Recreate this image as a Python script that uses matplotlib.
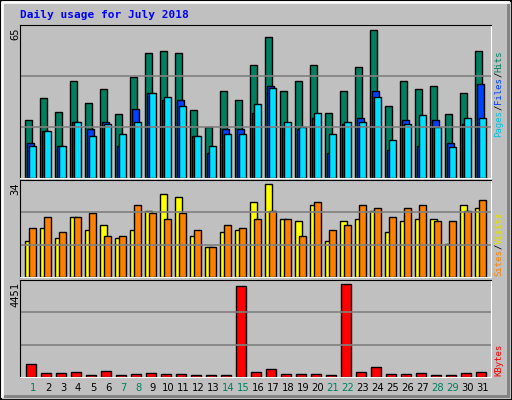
import numpy as np
import matplotlib
matplotlib.use('Agg')
import matplotlib.pyplot as plt
from matplotlib.patches import Rectangle

# dati
giorni = np.arange(1, 32)
hits = [24.5, 34, 28, 41, 32, 38, 27, 43, 53, 54, 53, 29, 21.5, 37, 33, 48, 60, 37, 41, 48,
        27.5, 37, 47, 63, 30.5, 41, 38, 39, 27, 36, 54]
files = [14.7, 19.8, 13.8, 23.7, 20.7, 23.7, 13.8, 29.2, 36, 33, 33, 17.7, 10.8, 20.7, 20.7, 27.5,
         39, 21.5, 20.7, 25.4, 10.8, 22.8, 25.4, 37, 12.1, 24.5, 13.8, 24.5, 14.7, 22.8, 40]
pages = [13.8, 19.8, 13.8, 23.7, 17.7, 22.8, 18.5, 23.7, 36, 34.3, 30.5, 17.7, 13.8, 18.5, 18.5,
         31.3, 38.2, 23.7, 21.5, 27.5, 18.5, 23.7, 23.7, 34.3, 16, 22.8, 26.7, 21.5, 13, 25.4, 25.4]
sites = [12.7, 17.3, 13.5, 21.2, 16.3, 18.4, 13.5, 16.3, 23, 29, 28, 14.5, 10.6, 15.6, 16.3, 26.2,
         32.6, 20.2, 19.5, 25.1, 12.7, 19.5, 20.2, 23, 15.6, 19.5, 20.2, 20.2, 11.7, 25.1, 24.1]
visits = [17.3, 21.2, 15.6, 21.2, 22.3, 14.5, 14.5, 25.1, 22.3, 20.2, 22.3, 16.3, 10.6, 18.4, 17.3,
          20.2, 23, 20.2, 14.5, 26.2, 16.3, 18.4, 25.1, 24.1, 21.2, 24.1, 25.1, 19.5, 19.5, 23, 26.9]
kbytes = [576, 202, 202, 249, 109, 296, 109, 156, 202, 156, 156, 109, 109, 109, 4170, 249, 389,
          156, 156, 156, 109, 4263, 249, 436, 156, 156, 202, 109, 109, 202, 249]
weekend = [1, 7, 8, 14, 15, 21, 22, 28, 29]

BG = '#c0c0c0'
W, H = 512, 400
fig = plt.figure(figsize=(W / 100, H / 100), dpi=100, facecolor=BG)

# bordo con effetto rilievo
fig.patches.append(Rectangle((0, 0), 1, 1, transform=fig.transFigure, fill=False, ec='black', lw=2))
fig.patches.append(Rectangle((2 / W, 4 / H), 1 - 6 / W, 1 - 6 / H, transform=fig.transFigure,
                             fill=False, ec='#808080', lw=2))
fig.lines.append(plt.Line2D([2 / W, 2 / W, 1 - 4 / W], [4 / H, 1 - 2 / H, 1 - 2 / H],
                            transform=fig.transFigure, color='white', lw=2))


def pannello(y0, y1):
    ax = fig.add_axes([20 / W, 1 - y1 / H, 471 / W, (y1 - y0) / H])
    ax.set_facecolor(BG)
    ax.set_xlim((20 - 25) / 15, (491 - 25) / 15)
    ax.set_xticks([])
    ax.set_yticks([])
    for s in ['left', 'top']:
        ax.spines[s].set_color('black')
    for s in ['right', 'bottom']:
        ax.spines[s].set_color('white')
    return ax


x = giorni - 1.0
bw = 7.4 / 15
kw = dict(edgecolor='black', linewidth=1, align='edge')

# pannello hits/files/pages
ax1 = pannello(25, 178)
ax1.set_ylim(0, 65)
for g in [65 / 3, 130 / 3]:
    ax1.axhline(g, color='#808080', lw=1.2)
ax1.bar(x, hits, bw, color='#008060', **kw)
ax1.bar(x + 2 / 15, files, bw, color='#0040ff', **kw)
ax1.bar(x + 4 / 15, pages, bw, color='#00e0ff', **kw)

# pannello sites/visits
ax2 = pannello(180, 277)
ax2.set_ylim(0, 34)
for g in [34 / 3, 68 / 3]:
    ax2.axhline(g, color='#808080', lw=1.2)
ax2.bar(x, sites, bw, color='#ffff00', **kw)
ax2.bar(x + 4 / 15, visits, bw, color='#ff8000', **kw)

# pannello kbytes
ax3 = pannello(280, 377)
ax3.set_ylim(0, 4451)
for g in [4451 / 3, 2 * 4451 / 3]:
    ax3.axhline(g, color='#808080', lw=1.2)
ax3.bar(x + 1 / 15, kbytes, 10 / 15, color='#ff0000', **kw)

mono = 'DejaVu Sans Mono'
fig.text(20 / W, 1 - 15 / H, 'Daily usage for July 2018', color='#0000ff', family=mono,
         weight='bold', fontsize=8, va='center')

for testo, yy in [('65', 27), ('34', 182), ('4451', 282)]:
    fig.text(15 / W, 1 - yy / H, testo, rotation=90, ha='center', va='top', family=mono, fontsize=7.5)

for g in giorni:
    px = 25 + 15 * (g - 1) + 8
    fig.text(px / W, 1 - 388 / H, str(g), ha='center', va='center', fontsize=7.2,
             color='#008060' if g in weekend else 'black')

# etichette a destra, scritte dal basso verso l'alto (unica stringa per evitare sovrapposizioni)
fs = 6.5
ch = 0.6 * fs * 100 / 72


def etichetta(pezzi, y_basso):
    y = y_basso
    for testo, col in pezzi:
        fig.text(499 / W, 1 - y / H, testo, rotation=90, ha='center', va='bottom',
                 family=mono, fontsize=fs, color=col)
        y -= ch * len(testo)


etichetta([('Pages', '#00c0e0'), ('/', 'black'), ('Files', '#0040ff'), ('/', 'black'),
           ('Hits', '#008060')], 137)
etichetta([('Sites', '#ff8000'), ('/', 'black'), ('Visits', '#e0e000')], 276)
etichetta([('KBytes', '#ff0000')], 376)

fig.savefig('out.png', dpi=100, facecolor=BG)
